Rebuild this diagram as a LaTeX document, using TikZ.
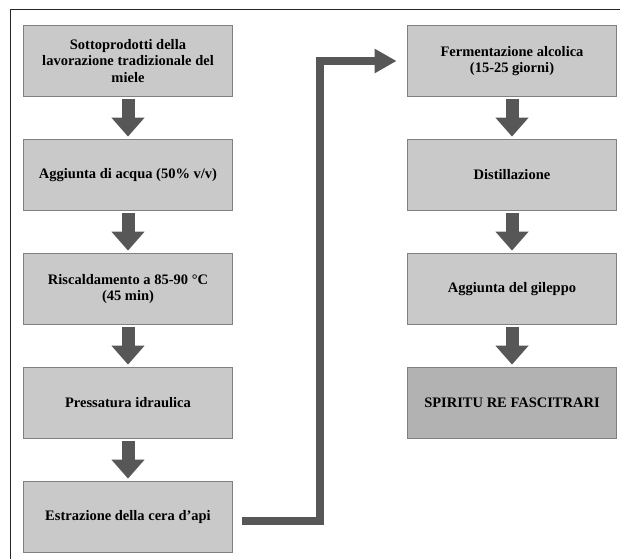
\documentclass[tikz,border=0pt]{standalone}
\usepackage{fontspec}
\setmainfont{Liberation Serif}
\definecolor{boxgray}{RGB}{201, 201, 201}
\definecolor{endgray}{RGB}{178, 178, 178}
\definecolor{edgegray}{RGB}{128, 128, 128}
\definecolor{arrowgray}{RGB}{87, 87, 87}
\usetikzlibrary{
    arrows.meta,
    positioning,
    calc
}

\begin{document}
\begin{tikzpicture}[x=1pt, y=-1pt,
        stepbox/.style={draw=edgegray, line width=1.8pt, minimum width=209pt, minimum height=71pt,
            align=center, font=\fontsize{14.5}{16.7}\selectfont\bfseries},
        downarrow/.style={draw=arrowgray, line width=13pt, -{Triangle[width=32pt, length=19pt]}},
        elbowarrow/.style={draw=arrowgray, line width=8pt, -{Triangle[width=23pt, length=22pt]}}]
        \useasboundingbox (0,0) rectangle (620,559);

        % outer frame (top and left only)
        \draw[line width=1pt, black!85] (10,559) -- (10,10) -- (620,10);

        % left column - extraction
        \foreach \i/\txt in {
            0/{Sottoprodotti della\\lavorazione tradizionale del\\miele},
            1/{Aggiunta di acqua (50\% v/v)},
            2/{Riscaldamento a 85-90 °C\\(45 min)},
            3/{Pressatura idraulica},
            4/{Estrazione della cera d'api}} {
            \node[stepbox, fill=boxgray] (l\i) at (128,61+114*\i) {\txt};
        }

        % right column - spirit
        \foreach \i/\col/\txt in {
            0/boxgray/{Fermentazione alcolica\\(15-25 giorni)},
            1/boxgray/{Distillazione},
            2/boxgray/{Aggiunta del gileppo},
            3/endgray/{SPIRITU RE FASCITRARI}} {
            \node[stepbox, fill=\col] (r\i) at (512,61+114*\i) {\txt};
        }

        % arrows down the columns
        \foreach \a/\b in {l0/l1, l1/l2, l2/l3, l3/l4, r0/r1, r1/r2, r2/r3} {
            \draw[downarrow] ([yshift=-2pt]\a.south) -- ([yshift=2pt]\b.north);
        }

        % from the wax back up to fermentation
        \coordinate (bend) at ($(l4.east)!0.5!(r0.west)$);
        \draw[elbowarrow] ([shift={(9pt,-4pt)}]l4.east) -| (bend |- r0.west) -- ([xshift=-10pt]r0.west);
    \end{tikzpicture}
\end{document}
